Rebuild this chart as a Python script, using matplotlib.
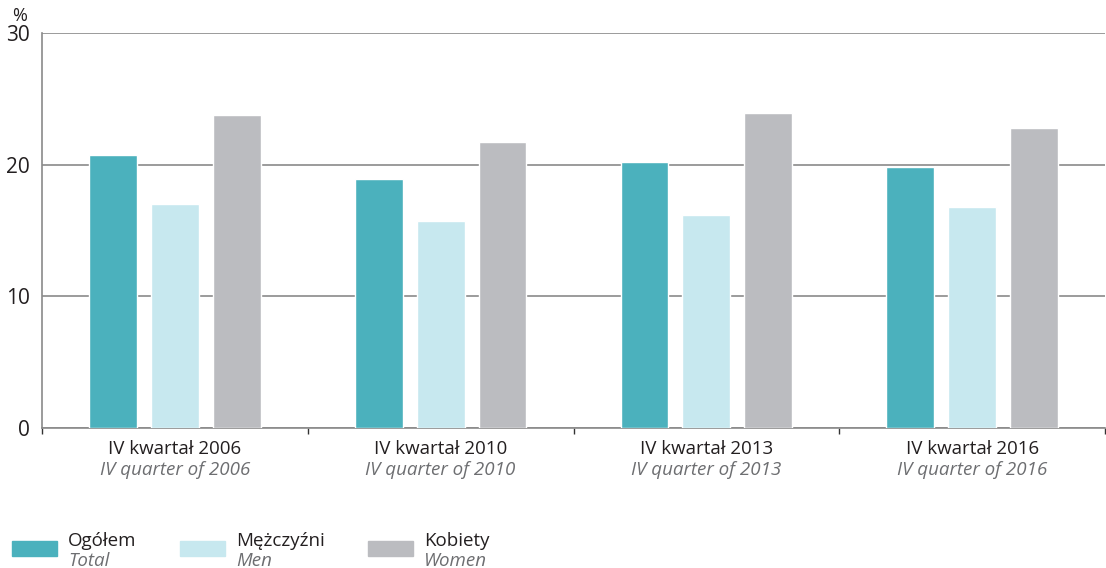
import matplotlib
matplotlib.use("Agg")
import matplotlib.pyplot as plt
import numpy as np

plt.rcParams['font.family'] = ['Open Sans', 'DejaVu Sans']

categories_pl = ["IV kwartał 2006", "IV kwartał 2010", "IV kwartał 2013", "IV kwartał 2016"]
categories_en = ["IV quarter of 2006", "IV quarter of 2010", "IV quarter of 2013", "IV quarter of 2016"]
series_pl = ["Ogółem", "Mężczyźni", "Kobiety"]
series_en = ["Total", "Men", "Women"]
total = [20.7, 18.9, 20.2, 19.8]
men = [17.0, 15.7, 16.2, 16.8]
women = [23.8, 21.7, 23.9, 22.8]
colors = ["#4BB1BD", "#C7E8EF", "#BBBCC0"]
yticks = [0, 10, 20, 30]

W, H = 1106, 568
fig = plt.figure(figsize=(W / 100, H / 100), dpi=100)
ax = fig.add_axes([42 / W, (H - 428) / H, (1105 - 42) / W, (428 - 33) / H])

x = np.arange(len(categories_pl))
offsets = [-0.233, 0.0, 0.233]
for vals, off, c in zip([total, men, women], offsets, colors):
    ax.bar(x + off, vals, width=0.18, color=c, edgecolor="white", linewidth=1.0, zorder=3)

ax.set_xlim(-0.5, len(categories_pl) - 0.5)
ax.set_ylim(0, 30)
ax.set_yticks(yticks)
ax.set_yticklabels([str(v) for v in yticks], fontsize=15, color="#231f20")
ax.yaxis.grid(True, color="#8a8a8a", linewidth=1.2, zorder=0)
ax.set_axisbelow(True)
ax.tick_params(axis="y", length=0, pad=9)

ax.set_xticks(np.arange(-0.5, len(categories_pl)), minor=False)
ax.set_xticklabels([])
ax.tick_params(axis="x", length=4, width=1, color="#333333", direction="out")
for i, (pl, en) in enumerate(zip(categories_pl, categories_en)):
    ax.text(i, -1.6, pl, ha="center", va="center", fontsize=13.5, color="#231f20")
    ax.text(i, -3.2, en, ha="center", va="center", fontsize=13.5, color="#6d6e71", style="italic")

for s in ["top", "right"]:
    ax.spines[s].set_visible(False)
for s in ["left", "bottom"]:
    ax.spines[s].set_color("#8a8a8a")
    ax.spines[s].set_linewidth(1.2)

fig.text(12 / W, 1 - 16 / H, "%", ha="left", va="center", fontsize=13, color="#231f20")

# legend
leg_x = [12, 180, 368]
for lx, c, pl, en in zip(leg_x, colors, series_pl, series_en):
    fig.patches.append(plt.Rectangle((lx / W, 1 - 556 / H), 45 / W, 15 / H,
                                     transform=fig.transFigure, color=c, figure=fig))
    fig.text((lx + 56) / W, 1 - 541 / H, pl, ha="left", va="center", fontsize=13.5, color="#231f20")
    fig.text((lx + 56) / W, 1 - 561 / H, en, ha="left", va="center", fontsize=13.5,
             color="#6d6e71", style="italic")

fig.savefig("out.png", dpi=100)
